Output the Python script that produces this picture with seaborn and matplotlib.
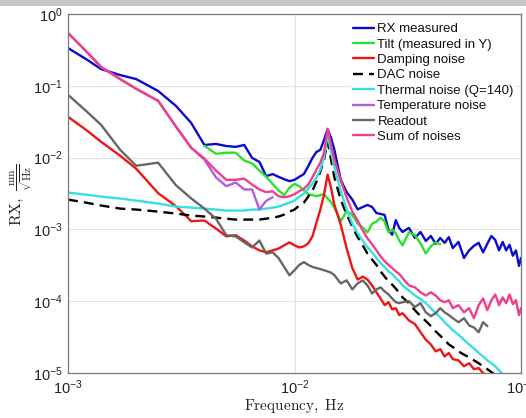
import matplotlib
matplotlib.use("Agg")
import matplotlib.pyplot as plt
import matplotlib.ticker as mticker
from matplotlib.patches import Rectangle
import seaborn as sns

# Frequency grid (Hz) shared by all spectra
freq = [0.001, 0.0012, 0.0014, 0.0017, 0.002, 0.0025, 0.003, 0.0035, 0.004, 0.0045,
        0.005, 0.0055, 0.006, 0.0065, 0.007, 0.0075, 0.008, 0.0085, 0.009, 0.0095,
        0.010, 0.0105, 0.011, 0.0115, 0.012, 0.0125, 0.013, 0.0135, 0.014, 0.0145,
        0.015, 0.016, 0.017, 0.018, 0.019, 0.020, 0.021, 0.022, 0.023, 0.024,
        0.025, 0.026, 0.027, 0.028, 0.029, 0.030, 0.032, 0.034, 0.036, 0.038,
        0.040, 0.042, 0.044, 0.046, 0.048, 0.050, 0.053, 0.056, 0.059, 0.062,
        0.065, 0.068, 0.071, 0.074, 0.077, 0.080, 0.083, 0.086, 0.089, 0.092,
        0.095, 0.098, 0.100]

# RX measured, nm/sqrt(Hz)
rx_measured = [0.336, 0.236, 0.171, 0.141, 0.124, 0.0847, 0.0523, 0.0303, 0.0150, 0.0155,
               0.0145, 0.0141, 0.0150, 0.0099, 0.0087, 0.0055, 0.0059, 0.0054, 0.0050, 0.0047,
               0.0049, 0.0054, 0.0059, 0.0076, 0.0099, 0.0120, 0.0128, 0.0176, 0.0250, 0.0188,
               0.0128, 0.0049, 0.0033, 0.0026, 0.0019, 0.00205, 0.00219, 0.00205, 0.00169, 0.00164,
               0.00159, 0.00098, 0.00084, 0.00135, 0.00105, 0.00092, 0.00105, 0.00076, 0.00092, 0.00069,
               0.00081, 0.00063, 0.00076, 0.00065, 0.00078, 0.00055, 0.00067, 0.00040, 0.00051, 0.00059,
               0.00065, 0.00048, 0.00063, 0.00081, 0.00071, 0.00051, 0.00067, 0.00051, 0.00061, 0.00043,
               0.00051, 0.00031, 0.00040]

# Tilt (measured in Y), starts at freq[8]
tilt = [0.0146, 0.0113, 0.0117, 0.0117, 0.0091, 0.0083, 0.0066, 0.0054, 0.0043, 0.0035,
        0.0030, 0.0038, 0.0043, 0.0040, 0.0035, 0.0031, 0.0030, 0.0029, 0.0030, 0.0031,
        0.0027, 0.0024, 0.0020, 0.0013, 0.0018, 0.0016, 0.0012, 0.00106, 0.00091, 0.00120,
        0.00128, 0.00146, 0.00128, 0.00091, 0.00100, 0.00088, 0.00070, 0.00060, 0.00091, 0.00083,
        0.00064, 0.00046, 0.00058, 0.00066, 0.00062]
tilt_start = 8

# Damping noise
damping = [0.0370, 0.0244, 0.0166, 0.0106, 0.0070, 0.0032, 0.0021, 0.0013, 0.00133, 0.00103,
           0.00080, 0.00083, 0.00070, 0.00058, 0.00051, 0.00048, 0.00051, 0.00054, 0.00060, 0.00066,
           0.00060, 0.00056, 0.00058, 0.00064, 0.00080, 0.00124, 0.00189, 0.00305, 0.0058, 0.0038,
           0.0022, 0.00117, 0.00054, 0.00029, 0.00020, 0.00022, 0.00020, 0.000166, 0.000133, 0.000109,
           8.8e-5, 9.7e-5, 7.7e-5, 8.0e-5, 6.4e-5, 6.8e-5, 5.4e-5, 4.8e-5, 3.7e-5, 2.9e-5,
           2.5e-5, 2.0e-5, 2.15e-5, 1.7e-5, 1.9e-5, 1.56e-5, 1.5e-5, 1.24e-5, 1.37e-5, 1.13e-5,
           1.17e-5, 1.0e-5, 9.1e-6]

# DAC noise
dac = [0.00260, 0.00236, 0.00215, 0.00195, 0.00189, 0.00177, 0.00166, 0.00156, 0.00151, 0.00146,
       0.00141, 0.00137, 0.00137, 0.00137, 0.00137, 0.00141, 0.00146, 0.00151, 0.00161, 0.00177,
       0.00189, 0.00215, 0.00236, 0.00286, 0.00347, 0.00463, 0.00638, 0.00938, 0.0166, 0.00938,
       0.00527, 0.0026, 0.00161, 0.00110, 0.00078, 0.00060, 0.00046, 0.00038, 0.00032, 0.00026,
       0.00022, 0.00019, 0.00017, 0.00015, 0.00013, 0.000113, 9.4e-5, 7.5e-5, 6.2e-5, 5.3e-5,
       4.5e-5, 3.8e-5, 3.3e-5, 2.9e-5, 2.5e-5, 2.3e-5, 2.0e-5, 1.8e-5, 1.66e-5, 1.5e-5,
       1.37e-5, 1.24e-5, 1.13e-5, 1.03e-5, 9.4e-6]

# Thermal noise (Q=140)
thermal = [0.00326, 0.00305, 0.00286, 0.00269, 0.00252, 0.00229, 0.00208, 0.00201, 0.00195, 0.00189,
           0.00183, 0.00183, 0.00183, 0.00189, 0.00189, 0.00195, 0.00201, 0.00208, 0.00222, 0.00236,
           0.00252, 0.00286, 0.00315, 0.00370, 0.00434, 0.00527, 0.00680, 0.0100, 0.0208, 0.0120,
           0.00726, 0.00347, 0.00189, 0.00120, 0.00088, 0.00070, 0.00056, 0.00048, 0.00040, 0.00034,
           0.00030, 0.00026, 0.00024, 0.00021, 0.00019, 0.000166, 0.000141, 0.000120, 0.000107, 9.4e-5,
           8.0e-5, 6.8e-5, 6.0e-5, 5.1e-5, 4.5e-5, 3.95e-5, 3.4e-5, 2.9e-5, 2.5e-5, 2.2e-5,
           1.9e-5, 1.7e-5, 1.5e-5, 1.37e-5, 1.24e-5, 1.09e-5, 9.7e-6]

# Temperature noise
temperature = [0.544, 0.305, 0.183, 0.124, 0.0908, 0.0618, 0.0269, 0.0137, 0.0094, 0.0053,
               0.0040, 0.0045, 0.0036, 0.0036, 0.0019, 0.0025, 0.0028]

# Readout noise
readout = [0.0749, 0.0449, 0.0286, 0.0128, 0.0077, 0.0085, 0.0041, 0.0027, 0.00195, 0.00141,
           0.00083, 0.00080, 0.00066, 0.00056, 0.00070, 0.00046, 0.00048, 0.00040, 0.00030, 0.00023,
           0.00027, 0.00032, 0.00035, 0.00032, 0.00030, 0.00029, 0.00028, 0.00027, 0.00026, 0.00025,
           0.00023, 0.000177, 0.000195, 0.000146, 0.000177, 0.000195, 0.000166, 0.000128, 0.000146, 0.000156,
           0.000137, 0.000124, 0.000109, 9.7e-5, 9.4e-5, 9.7e-5, 1.0e-4, 8.3e-5, 9.4e-5, 7.0e-5,
           6.2e-5, 6.8e-5, 8.0e-5, 7.0e-5, 6.4e-5, 5.8e-5, 5.1e-5, 5.8e-5, 4.6e-5, 4.3e-5,
           3.7e-5, 5.1e-5, 4.5e-5]

# Sum of noises
noise_sum = [0.544, 0.305, 0.183, 0.124, 0.0908, 0.0618, 0.0269, 0.0137, 0.0097, 0.0066,
             0.0049, 0.0049, 0.0051, 0.0042, 0.0036, 0.0033, 0.0034, 0.0029, 0.0028, 0.0029,
             0.0031, 0.0034, 0.0037, 0.0042, 0.0053, 0.0068, 0.0085, 0.0117, 0.0252, 0.0151,
             0.0094, 0.0048, 0.00277, 0.00177, 0.00133, 0.00097, 0.00075, 0.00062, 0.00051, 0.00042,
             0.00036, 0.00032, 0.00029, 0.00026, 0.00024, 0.00021, 0.000166, 0.000156, 0.000133, 0.000120,
             0.000133, 0.000120, 0.000103, 9.7e-5, 0.000103, 8.0e-5, 8.8e-5, 7.0e-5, 8.0e-5, 5.8e-5,
             8.8e-5, 0.000109, 7.5e-5, 0.000103, 0.000124, 8.8e-5, 0.000113, 9.4e-5, 0.000124, 9.1e-5,
             0.000103, 6.4e-5, 8.0e-5]

labels = ["RX measured", "Tilt (measured in Y)", "Damping noise", "DAC noise",
          "Thermal noise (Q=140)", "Temperature noise", "Readout", "Sum of noises"]

sns.set_theme(style="white")
plt.rcParams["font.family"] = ["Liberation Sans", "DejaVu Sans"]
plt.rcParams["mathtext.fontset"] = "cm"

W, H = 526, 418
fig = plt.figure(figsize=(W / 100, H / 100), dpi=100)
fig.patches.append(Rectangle((0, 1 - 6 / H), 1, 6 / H, transform=fig.transFigure,
                             facecolor="#c6c6c6", edgecolor="none", zorder=0))
ax = fig.add_axes([68 / W, 1 - 373 / H, 453 / W, 359 / H])

series = [
    (freq, rx_measured, "#0a0ad0", "-"),
    (freq[tilt_start:tilt_start + len(tilt)], tilt, "#2ee02e", "-"),
    (freq[:len(damping)], damping, "#ee1515", "-"),
    (freq[:len(dac)], dac, "black", (0, (4.2, 2.6))),
    (freq[:len(thermal)], thermal, "#36e0e0", "-"),
    (freq[:len(temperature)], temperature, "#b05ee0", "-"),
    (freq[:len(readout)], readout, "#676767", "-"),
    (freq, noise_sum, "#ee3f8c", "-"),
]

for (f, v, color, ls), lab in zip(series, labels):
    sns.lineplot(x=f, y=v, ax=ax, color=color, linestyle=ls, linewidth=1.7,
                 label=lab, estimator=None, sort=False)

ax.set_xscale("log")
ax.set_yscale("log")
ax.set_xlim(1e-3, 1e-1)
ax.set_ylim(1e-5, 1)
ax.xaxis.set_minor_locator(mticker.NullLocator())
ax.yaxis.set_minor_locator(mticker.NullLocator())
ax.grid(True, which="major", color="#e2e2e2", linewidth=0.8)
ax.set_axisbelow(True)
for sp in ax.spines.values():
    sp.set_color("#7a7a7a")
    sp.set_linewidth(0.9)
ax.tick_params(direction="in", length=3, width=0.8, color="#7a7a7a",
               labelsize=10.5, labelcolor="#222222", pad=4)
ax.set_xlabel("")
ax.set_ylabel("")

fig.text(294 / W, 1 - 406 / H, r"$\mathrm{Frequency,\ Hz}$", ha="center", va="center",
         fontsize=11, color="#222222")
fig.text(22 / W, 1 - 195 / H, r"$\mathrm{RX},\ \frac{\mathrm{nm}}{\sqrt{\mathrm{Hz}}}$",
         ha="center", va="center", rotation=90, fontsize=11.5, color="#222222")

leg = ax.legend(loc="upper left", bbox_to_anchor=(351 / W, 1 - 21 / H),
                bbox_transform=fig.transFigure, frameon=True, facecolor="white",
                edgecolor="none", fancybox=False, framealpha=1, fontsize=9.5,
                handlelength=1.6, handletextpad=0.25, labelspacing=0.24,
                borderpad=0.15, borderaxespad=0)
for t in leg.get_texts():
    t.set_color("#111111")

fig.savefig("out.png", dpi=100)
